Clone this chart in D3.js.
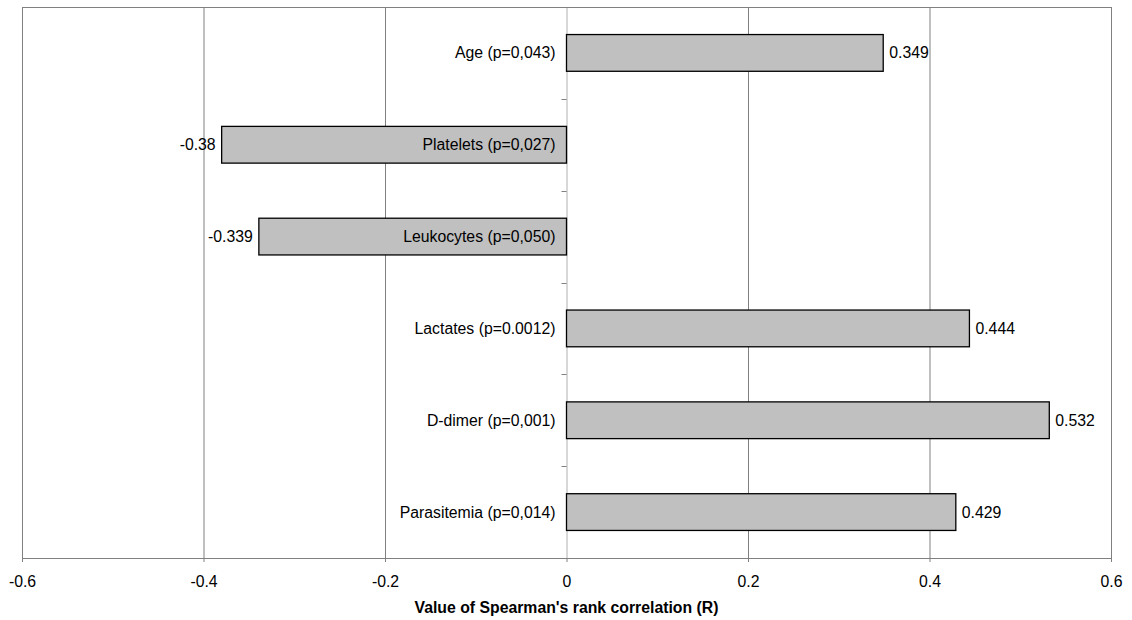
<!DOCTYPE html>
<html>
<head>
<meta charset="utf-8">
<script src="https://cdn.jsdelivr.net/npm/d3@7"></script>
<style>
  body { margin: 0; background: #fff; }
  text { font-family: "Liberation Sans", Arial, sans-serif; }
</style>
</head>
<body>
<script>
const categories = ['Age (p=0,043)', 'Platelets (p=0,027)', 'Leukocytes (p=0,050)', 'Lactates (p=0.0012)', 'D-dimer (p=0,001)', 'Parasitemia (p=0,014)']
const values = [0.349, -0.38, -0.339, 0.444, 0.532, 0.429]
const valueLabels = ['0.349', '-0.38', '-0.339', '0.444', '0.532', '0.429']
const xTicks = [-0.6, -0.4, -0.2, 0, 0.2, 0.4, 0.6]
const xTitle = "Value of Spearman's rank correlation (R)"

const w = 1132
const h = 620
const plotLeft = 22, plotRight = 1111, plotTop = 7, plotBottom = 558
const fontSize = 15.8

const svg = d3.select('body')
  .append('svg')
  .attr('width', w)
  .attr('height', h)

const xScale = d3.scaleLinear()
  .domain([-0.6, 0.6])
  .range([plotLeft, plotRight])

const yScale = d3.scaleBand()
  .domain(categories)
  .range([plotTop, plotBottom])
  .paddingInner(0.6)
  .paddingOuter(0.3)

// gridlines
svg.append('g')
  .selectAll('line')
  .data(xTicks)
  .enter()
  .append('line')
  .attr('x1', d => xScale(d) + 0.5)
  .attr('x2', d => xScale(d) + 0.5)
  .attr('y1', plotTop)
  .attr('y2', plotBottom)
  .attr('stroke', d => d === 0 ? '#b0b0b0' : '#808080')
  .attr('stroke-width', 1)

// frame
svg.append('rect')
  .attr('x', plotLeft + 0.5)
  .attr('y', plotTop + 0.5)
  .attr('width', plotRight - plotLeft)
  .attr('height', plotBottom - plotTop)
  .attr('fill', 'none')
  .attr('stroke', '#808080')

// category separator ticks on the zero line
const step = yScale.step()
svg.append('g')
  .selectAll('line')
  .data(categories.slice(1))
  .enter()
  .append('line')
  .attr('x1', xScale(0) - 5)
  .attr('x2', xScale(0))
  .attr('y1', (d, i) => Math.round(plotTop + step * (i + 1)) + 0.5)
  .attr('y2', (d, i) => Math.round(plotTop + step * (i + 1)) + 0.5)
  .attr('stroke', '#808080')

// bars
svg.append('g')
  .selectAll('rect')
  .data(values)
  .enter()
  .append('rect')
  .attr('x', d => xScale(Math.min(0, d)))
  .attr('y', (d, i) => yScale(categories[i]))
  .attr('width', d => Math.abs(xScale(d) - xScale(0)))
  .attr('height', yScale.bandwidth())
  .attr('fill', '#c0c0c0')
  .attr('stroke', '#000')
  .attr('stroke-width', 1.3)

// category labels
svg.append('g')
  .selectAll('text')
  .data(categories)
  .enter()
  .append('text')
  .text(d => d)
  .attr('x', xScale(0) - 11)
  .attr('y', d => yScale(d) + yScale.bandwidth() / 2)
  .attr('dy', '0.35em')
  .attr('text-anchor', 'end')
  .attr('font-size', fontSize)
  .attr('fill', '#000')

// value labels
svg.append('g')
  .selectAll('text')
  .data(values)
  .enter()
  .append('text')
  .text((d, i) => valueLabels[i])
  .attr('x', d => d < 0 ? xScale(d) - 6 : xScale(d) + 6)
  .attr('y', (d, i) => yScale(categories[i]) + yScale.bandwidth() / 2)
  .attr('dy', '0.35em')
  .attr('text-anchor', d => d < 0 ? 'end' : 'start')
  .attr('font-size', fontSize)
  .attr('fill', '#000')

// x axis
const xAxis = d3.axisBottom(xScale)
  .tickValues(xTicks)
  .tickSize(4)
  .tickPadding(14)
  .tickFormat(d => String(d))

const gx = svg.append('g')
  .attr('transform', `translate(0, ${plotBottom})`)
  .call(xAxis)
gx.select('.domain').attr('stroke', '#808080')
gx.selectAll('.tick line').attr('stroke', '#808080')
gx.selectAll('.tick text')
  .attr('font-size', fontSize)
  .attr('font-family', '"Liberation Sans", Arial, sans-serif')
  .attr('fill', '#000')

svg.append('text')
  .text(xTitle)
  .attr('x', xScale(0))
  .attr('y', 613)
  .attr('text-anchor', 'middle')
  .attr('font-size', fontSize)
  .attr('font-weight', 'bold')
  .attr('fill', '#000')
</script>
</body>
</html>
